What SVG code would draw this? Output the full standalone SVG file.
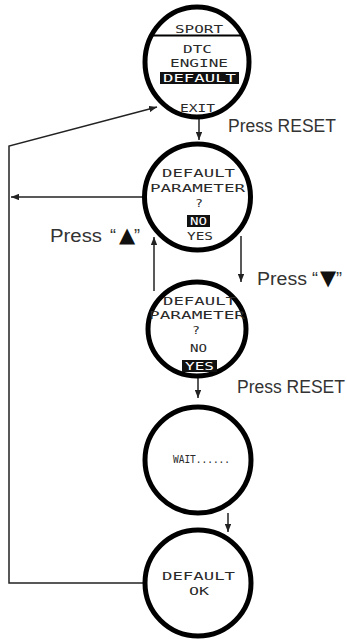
<svg xmlns="http://www.w3.org/2000/svg" width="347" height="639" viewBox="0 0 347 639">
<style>
.bg{fill:#fff}
.ring{fill:#fff;stroke:#000;stroke-width:5}
.lcd{font-family:"DejaVu Sans Mono","Liberation Mono",monospace;font-size:10px;fill:#2a2a2a}
.inv{font-family:"DejaVu Sans Mono","Liberation Mono",monospace;font-size:10px;fill:#fff}
.hl{fill:#111}
.lbl{font-family:"Liberation Sans",Arial,sans-serif;font-size:18px;fill:#333}
.tri{font-family:"DejaVu Sans",sans-serif;font-size:21px;fill:#111}
.ln{fill:none;stroke:#222;stroke-width:1.5}
</style>
<defs>
<marker id="ah" viewBox="0 0 10 8" refX="10" refY="4" markerWidth="8" markerHeight="6.4" markerUnits="userSpaceOnUse" orient="auto">
<path d="M0,0 L10,4 L0,8 z" fill="#222"/>
</marker>
</defs>
<rect class="bg" x="0" y="0" width="347" height="639"/>

<g id="connectors">
<line class="ln" x1="199" y1="118" x2="199" y2="140" marker-end="url(#ah)"/>
<line class="ln" x1="143" y1="197" x2="11" y2="197" marker-end="url(#ah)"/>
<line class="ln" x1="154" y1="291" x2="154" y2="237" marker-end="url(#ah)"/>
<line class="ln" x1="241" y1="236" x2="241" y2="282" marker-end="url(#ah)"/>
<line class="ln" x1="198" y1="377" x2="198" y2="398" marker-end="url(#ah)"/>
<line class="ln" x1="228" y1="513" x2="228" y2="532" marker-end="url(#ah)"/>
<polyline class="ln" points="144,583 9,583 9,146 157,107" marker-end="url(#ah)"/>
</g>

<g id="labels">
<text class="lbl" x="228" y="132" textLength="108" lengthAdjust="spacingAndGlyphs">Press RESET</text>
<text class="lbl" y="242"><tspan x="50" textLength="52" lengthAdjust="spacingAndGlyphs">Press</tspan><tspan x="110">“</tspan><tspan class="tri" x="119">▲</tspan><tspan x="134">”</tspan></text>
<text class="lbl" y="285"><tspan x="257" textLength="50" lengthAdjust="spacingAndGlyphs">Press</tspan><tspan x="312">“</tspan><tspan class="tri" x="320">▼</tspan><tspan x="336">”</tspan></text>
<text class="lbl" x="237" y="393" textLength="108" lengthAdjust="spacingAndGlyphs">Press RESET</text>
</g>

<g id="node-sport">
<ellipse class="ring" cx="197" cy="62" rx="52" ry="55"/>
<text class="lcd" x="175" y="33" textLength="48" lengthAdjust="spacingAndGlyphs">SPORT</text>
<line x1="151" y1="35.5" x2="243" y2="35.5" stroke="#000" stroke-width="2"/>
<text class="lcd" x="183" y="53" textLength="29" lengthAdjust="spacingAndGlyphs">DTC</text>
<text class="lcd" x="170" y="67" textLength="58" lengthAdjust="spacingAndGlyphs">ENGINE</text>
<rect class="hl" x="160" y="72" width="79" height="12"/>
<text class="inv" x="163" y="82" textLength="73" lengthAdjust="spacingAndGlyphs">DEFAULT</text>
<text class="lcd" x="180" y="112" textLength="35" lengthAdjust="spacingAndGlyphs">EXIT</text>
</g>

<g id="node-param-no">
<circle class="ring" cx="197.5" cy="197" r="53"/>
<text class="lcd" x="162" y="177" textLength="73" lengthAdjust="spacingAndGlyphs">DEFAULT</text>
<text class="lcd" x="150" y="192" textLength="95" lengthAdjust="spacingAndGlyphs">PARAMETER</text>
<text class="lcd" x="195" y="207" textLength="8" lengthAdjust="spacingAndGlyphs">?</text>
<rect class="hl" x="187" y="215" width="23" height="12"/>
<text class="inv" x="190" y="225" textLength="17" lengthAdjust="spacingAndGlyphs">NO</text>
<text class="lcd" x="187" y="240" textLength="26" lengthAdjust="spacingAndGlyphs">YES</text>
</g>

<g id="node-param-yes">
<ellipse class="ring" cx="197" cy="329" rx="49" ry="47"/>
<text class="lcd" x="163" y="305" textLength="73" lengthAdjust="spacingAndGlyphs">DEFAULT</text>
<text class="lcd" x="149" y="319" textLength="96" lengthAdjust="spacingAndGlyphs">PARAMETER</text>
<text class="lcd" x="192" y="334" textLength="8" lengthAdjust="spacingAndGlyphs">?</text>
<text class="lcd" x="190" y="352" textLength="17" lengthAdjust="spacingAndGlyphs">NO</text>
<rect class="hl" x="182" y="360" width="35" height="12"/>
<text class="inv" x="185" y="370" textLength="29" lengthAdjust="spacingAndGlyphs">YES</text>
</g>

<g id="node-wait">
<circle class="ring" cx="198" cy="460" r="53"/>
<text class="lcd" x="173" y="463" textLength="57" lengthAdjust="spacingAndGlyphs">WAIT......</text>
</g>

<g id="node-ok">
<circle class="ring" cx="198" cy="583" r="53"/>
<text class="lcd" x="162" y="580" textLength="73" lengthAdjust="spacingAndGlyphs">DEFAULT</text>
<text class="lcd" x="189" y="595" textLength="20" lengthAdjust="spacingAndGlyphs">OK</text>
</g>
</svg>
